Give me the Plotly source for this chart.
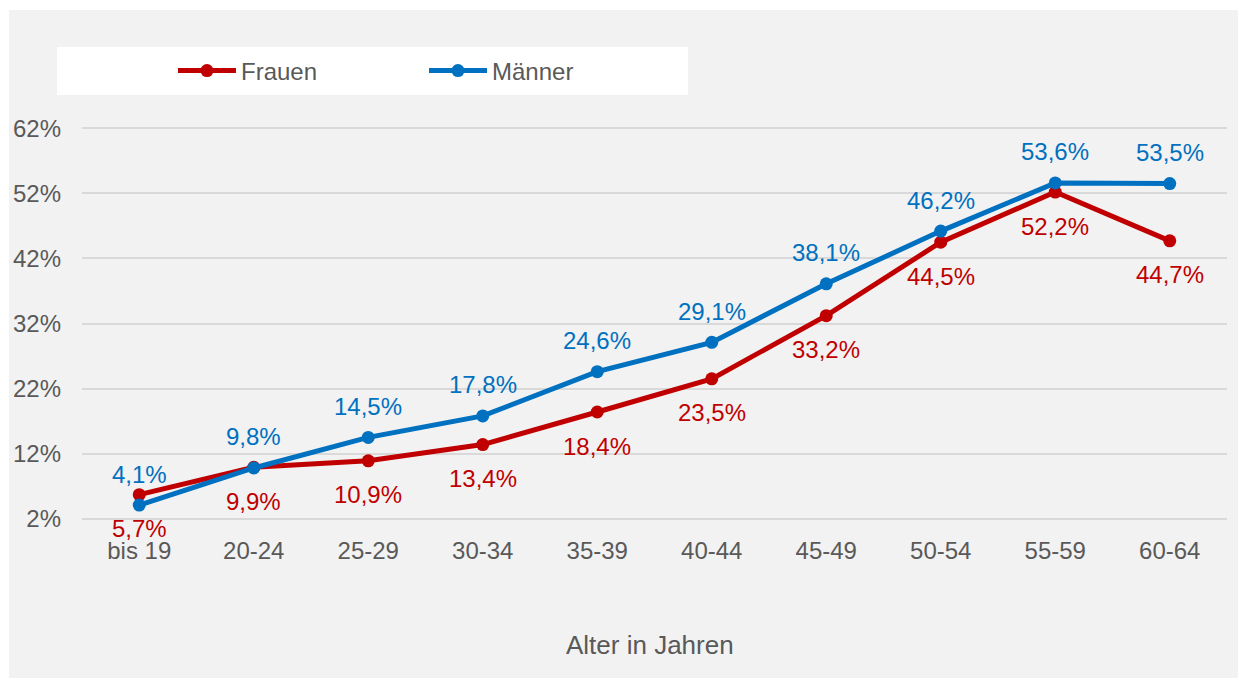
import plotly.graph_objects as go

categories = ["bis 19", "20-24", "25-29", "30-34", "35-39", "40-44", "45-49", "50-54", "55-59", "60-64"]
frauen = [5.7, 9.9, 10.9, 13.4, 18.4, 23.5, 33.2, 44.5, 52.2, 44.7]
maenner = [4.1, 9.8, 14.5, 17.8, 24.6, 29.1, 38.1, 46.2, 53.6, 53.5]
y_ticks = [2, 12, 22, 32, 42, 52, 62]

RED = "#C00000"
BLUE = "#0070C0"
TXT = "#595959"
FONT = "Liberation Sans, Arial, sans-serif"
FS = 24

def fmt(v):
    return f"{v:.1f}".replace(".", ",") + "%"

fig = go.Figure()
fig.add_trace(go.Scatter(x=categories, y=frauen, name="Frauen", mode="lines+markers",
                         line=dict(color=RED, width=5), marker=dict(size=13, color=RED)))
fig.add_trace(go.Scatter(x=categories, y=maenner, name="Männer", mode="lines+markers",
                         line=dict(color=BLUE, width=5), marker=dict(size=13, color=BLUE)))

annotations = []
for c, v in zip(categories, frauen):
    annotations.append(dict(x=c, y=v, text=fmt(v), showarrow=False, yshift=-34,
                            font=dict(color=RED, size=FS, family=FONT)))
for c, v in zip(categories, maenner):
    annotations.append(dict(x=c, y=v, text=fmt(v), showarrow=False, yshift=31,
                            font=dict(color=BLUE, size=FS, family=FONT)))

L, R, T, B = 82, 11, 125, 156
W, H = 1238, 678
pw, ph = W - L - R, H - T - B

def px_x(px):
    return (px - L) / pw

def px_y(py):
    return (H - B - py) / ph

annotations.append(dict(x=px_x(650), y=px_y(645), xref="paper", yref="paper", text="Alter in Jahren",
                        showarrow=False, yanchor="middle", xanchor="center",
                        font=dict(color=TXT, size=26, family=FONT)))

shapes = [
    dict(type="rect", xref="paper", yref="paper", x0=px_x(9), x1=px_x(1240), y0=px_y(680), y1=px_y(10),
         fillcolor="#F2F2F2", line=dict(width=0), layer="below"),
    dict(type="rect", xref="paper", yref="paper", x0=px_x(57), x1=px_x(688), y0=px_y(95), y1=px_y(47),
         fillcolor="#FFFFFF", line=dict(width=0), layer="below"),
]

fig.update_layout(
    width=W, height=H,
    margin=dict(l=L, r=R, t=T, b=B, autoexpand=False),
    paper_bgcolor="#FFFFFF",
    plot_bgcolor="rgba(0,0,0,0)",
    font=dict(family=FONT, color=TXT, size=FS),
    showlegend=True,
    legend=dict(orientation="h", x=px_x(173), xanchor="left", y=px_y(71), yanchor="middle",
                bgcolor="rgba(0,0,0,0)", font=dict(size=FS, color=TXT, family=FONT),
                itemwidth=58, entrywidth=178, entrywidthmode="pixels"),
    xaxis=dict(range=[-0.5, 9.5], showgrid=False, showline=False, zeroline=False, ticks="",
               tickfont=dict(size=FS, color=TXT), automargin=False, ticklabelstandoff=12),
    yaxis=dict(range=[1.5, 62.5], tickvals=y_ticks, ticktext=[f"{t}%" for t in y_ticks],
               showgrid=True, gridcolor="#D9D9D9", gridwidth=2, zeroline=False, showline=False,
               ticks="", tickfont=dict(size=FS, color=TXT), automargin=False, ticklabelstandoff=20),
    shapes=shapes,
    annotations=annotations,
)

fig.write_html("out.html", config={"displayModeBar": False},
               post_script="document.body.style.margin='0px';document.body.style.overflow='hidden';")
